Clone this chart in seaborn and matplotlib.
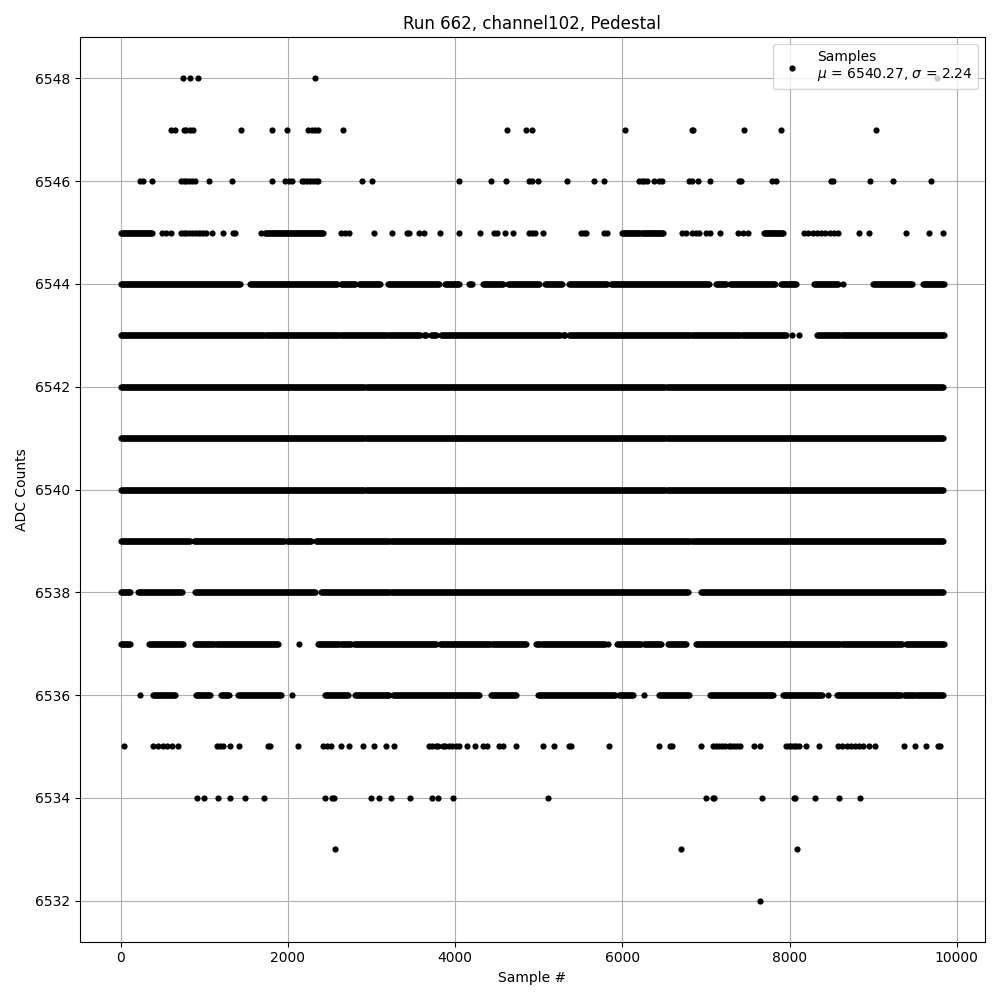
import numpy as np
import pandas as pd
import matplotlib
matplotlib.use("Agg")
import matplotlib.pyplot as plt
import seaborn as sns

# ---- data (sample # positions per ADC level) ----
# isolated samples per level
pts_6548 = [742, 827, 921, 2325, 9760]
pts_6547 = [598, 652, 753, 786, 833, 867, 1438, 1808, 1989, 2244, 2285, 2325, 2365,
            2654, 4623, 4852, 4919, 6035, 6828, 6850, 7459, 7896, 9038]
pts_6546 = [228, 269, 370, 726, 753, 786, 820, 853, 887, 1055, 1337, 1808, 1962, 2016,
            2050, 2164, 2197, 2231, 2265, 2298, 2332, 2365, 2883, 3004, 4045, 4428, 4610,
            4885, 4919, 4993, 5342, 5665, 5786, 6196, 6229, 6263, 6297, 6377, 6438, 6478,
            6801, 6834, 6901, 7043, 7392, 7419, 7795, 7842, 8494, 8521, 8958, 9240, 9697]
pts_6545 = [497, 538, 598, 719, 753, 786, 820, 853, 887, 921, 954, 988, 1021, 1089, 1223,
            1344, 1371, 1680, 2634, 2681, 2735, 3031, 3246, 3427, 3454, 3562, 3629, 3817,
            4045, 4301, 4469, 4502, 4596, 4697, 4885, 4919, 4959, 5053, 5504, 5537, 5564,
            5779, 5813, 6713, 6767, 6834, 6881, 6922, 7002, 7049, 7164, 7385, 7439, 7506,
            8178, 8225, 8279, 8333, 8380, 8427, 8481, 8535, 8582, 8830, 8951, 9395, 9663, 9831]
pts_6543 = [8023, 8111]
pts_6537 = [2131, 5826]
pts_6536 = [228, 2043, 6263, 8460]
pts_6535 = [40, 390, 450, 504, 551, 618, 685, 1156, 1189, 1223, 1304, 1411, 1761, 1780,
            2117, 2419, 2466, 2513, 2634, 2735, 2903, 3024, 3172, 3266, 3690, 3720, 3770,
            3800, 3850, 3880, 3930, 3960, 4010, 4045, 4146, 4233, 4334, 4381, 4529, 4570,
            4731, 5053, 5188, 5363, 5389, 5840, 6444, 6565, 6599, 6935, 7090, 7120, 7160,
            7190, 7230, 7270, 7300, 7340, 7370, 7405, 7573, 7641, 7956, 7990, 8020, 8050,
            8080, 8111, 8192, 8346, 8581, 8628, 8682, 8736, 8783, 8830, 8884, 8951, 9018,
            9368, 9502, 9637, 9778, 9805]
pts_6534 = [907, 1001, 1169, 1304, 1485, 1720, 2446, 2533, 2554, 2990, 3084, 3232, 3461,
            3723, 3797, 3972, 5114, 7002, 7083, 7096, 7674, 8051, 8064, 8306, 8595, 8837]
pts_6533 = [2560, 6707, 8091]
pts_6532 = [7641]

# runs of consecutive samples (start, end) per level
runs_6545 = [(0, 380), (1727, 2433), (6001, 6485), (7694, 7923)]
runs_6544 = [(0, 1438), (1546, 2601), (2634, 2802), (2849, 3105), (3192, 3810),
             (3877, 4045), (4166, 4213), (4334, 4583), (4637, 5020), (5074, 5289),
             (5363, 5826), (5860, 7036), (7116, 7237), (7291, 7842), (7896, 8077),
             (8292, 8581), (8635, 8635), (8998, 9475), (9590, 9850)]
runs_6543 = [(0, 1727), (1741, 3185), (3212, 3589), (3629, 3663), (3710, 3777),
             (3831, 5269), (5296, 5322), (5363, 7237), (7257, 7956), (8333, 9850)]
runs_6542 = [(0, 9850)]
runs_6541 = [(0, 9850)]
runs_6540 = [(0, 9850)]
runs_6539 = [(0, 833), (873, 1962), (1989, 2285), (2339, 9850)]
runs_6538 = [(0, 114), (202, 739), (887, 2332), (2399, 6800), (6935, 9850)]
runs_6537 = [(0, 114), (336, 753), (887, 1115), (1142, 1694), (1707, 1895), (2365, 2755),
             (2789, 3777), (3823, 4852), (4973, 5793), (5934, 6229), (6263, 6478),
             (6545, 6767), (6881, 9341), (9388, 9850)]
runs_6536 = [(383, 651), (901, 1075), (1203, 1303), (1404, 1694), (1707, 1929),
             (2446, 2722), (2802, 3219), (3253, 4294), (4428, 4731), (4993, 5927),
             (5961, 6129), (6438, 6801), (7050, 7808), (7923, 8400), (8568, 9341),
             (9374, 9838)]

levels_pts = {6548: pts_6548, 6547: pts_6547, 6546: pts_6546, 6545: pts_6545,
              6543: pts_6543, 6537: pts_6537, 6536: pts_6536, 6535: pts_6535,
              6534: pts_6534, 6533: pts_6533, 6532: pts_6532}
levels_runs = {6545: runs_6545, 6544: runs_6544, 6543: runs_6543, 6542: runs_6542,
               6541: runs_6541, 6540: runs_6540, 6539: runs_6539, 6538: runs_6538,
               6537: runs_6537, 6536: runs_6536}

mean_txt = "6540.27"
sigma_txt = "2.24"
title = "Run 662, channel102, Pedestal"

# ---- build table ----
xs, ys = [], []
for lvl, p in levels_pts.items():
    xs += list(p)
    ys += [lvl] * len(p)
for lvl, runs in levels_runs.items():
    for a, b in runs:
        seg = np.arange(a, b + 1, 12)
        xs += list(seg)
        ys += [lvl] * len(seg)
df = pd.DataFrame({"Sample #": xs, "ADC Counts": ys})

fig, ax = plt.subplots(figsize=(10, 10), dpi=100)
ax.set_axisbelow(True)
ax.grid(True, color="#b0b0b0", linewidth=0.8)
sns.scatterplot(data=df, x="Sample #", y="ADC Counts", ax=ax, color="black",
                s=20, linewidth=0, marker="o",
                label="Samples\n$\\mu$ = " + mean_txt + ", $\\sigma$ = " + sigma_txt)
ax.set_yticks(np.arange(6532, 6549, 2))
ax.set_xticks(np.arange(0, 10001, 2000))
ax.set_title(title)
ax.set_xlabel("Sample #")
ax.set_ylabel("ADC Counts")
ax.legend(loc="upper right")
fig.tight_layout()
fig.savefig("out.png", dpi=100)
